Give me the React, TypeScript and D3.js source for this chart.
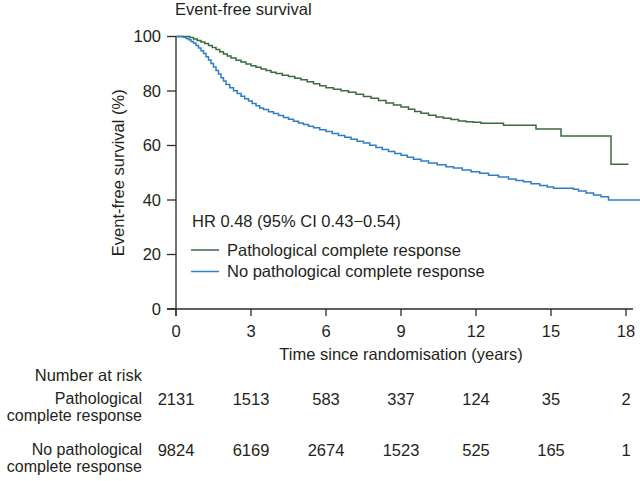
import React from "react";
import * as d3 from "d3";

// ---- Data ----
const xTicks = [0, 3, 6, 9, 12, 15, 18];
const yTicks = [0, 20, 40, 60, 80, 100];

// Pathological complete response (time in years, event-free survival %)
const pcrTime = [0, 0.55, 0.7, 0.85, 1.0, 1.15, 1.3, 1.45, 1.6, 1.75, 1.9, 2.05, 2.2, 2.4, 2.6, 2.8, 3.0, 3.2, 3.4, 3.6, 3.8, 4.0, 4.25, 4.5, 4.75, 5.0, 5.25, 5.5, 5.75, 6.0, 6.3, 6.6, 6.9, 7.2, 7.5, 7.8, 8.1, 8.4, 8.7, 9.0, 9.3, 9.55, 9.8, 10.1, 10.4, 10.7, 11.0, 11.3, 11.6, 11.9, 12.2, 13.1, 14.4, 15.4, 17.4, 18.1];
const pcrSurv = [100, 99.6, 99.1, 98.5, 98.0, 97.4, 96.7, 96.0, 95.2, 94.4, 93.6, 92.8, 92.1, 91.3, 90.6, 89.9, 89.3, 88.7, 88.1, 87.5, 86.9, 86.4, 85.8, 85.3, 84.7, 84.1, 83.4, 82.7, 81.9, 81.2, 80.6, 80.1, 79.5, 78.8, 78.0, 77.3, 76.5, 75.6, 74.9, 74.1, 73.3, 72.5, 71.8, 71.1, 70.5, 70.0, 69.5, 69.0, 68.7, 68.5, 68.2, 67.4, 66.1, 63.5, 53.1, 53.1];

// No pathological complete response
const noPcrTime = [0, 0.3, 0.4, 0.5, 0.6, 0.7, 0.8, 0.9, 1.0, 1.1, 1.2, 1.3, 1.4, 1.5, 1.6, 1.7, 1.8, 1.9, 2.0, 2.15, 2.3, 2.45, 2.6, 2.75, 2.9, 3.05, 3.2, 3.35, 3.5, 3.7, 3.9, 4.1, 4.3, 4.5, 4.7, 4.9, 5.1, 5.3, 5.5, 5.75, 6.0, 6.25, 6.5, 6.75, 7.0, 7.25, 7.5, 7.75, 8.0, 8.25, 8.5, 8.75, 9.0, 9.25, 9.5, 9.8, 10.1, 10.45, 10.8, 11.1, 11.45, 11.8, 12.15, 12.5, 12.9, 13.3, 13.6, 13.9, 14.2, 14.55, 14.85, 15.1, 15.9, 16.1, 16.4, 16.7, 17.0, 17.3, 18.6];
const noPcrSurv = [100, 99.7, 99.3, 98.8, 98.2, 97.5, 96.7, 95.8, 94.8, 93.8, 92.6, 91.4, 90.1, 88.8, 87.5, 86.2, 84.9, 83.7, 82.4, 81.2, 80.1, 79.1, 78.1, 77.2, 76.3, 75.4, 74.6, 73.8, 73.2, 72.4, 71.7, 71.0, 70.3, 69.6, 68.9, 68.3, 67.7, 67.1, 66.5, 65.8, 65.1, 64.4, 63.7, 63.0, 62.3, 61.6, 60.9, 60.1, 59.3, 58.5, 57.8, 57.1, 56.4, 55.7, 55.0, 54.3, 53.6, 52.9, 52.2, 51.7, 51.0, 50.4, 49.8, 49.1, 48.4, 47.7, 47.2, 46.7, 46.0, 45.3, 44.8, 44.3, 43.9, 43.3, 42.6, 41.8, 41.2, 40.0, 40.0];

const riskPcr = [2131, 1513, 583, 337, 124, 35, 2];
const riskNoPcr = [9824, 6169, 2674, 1523, 525, 165, 1];

const seriesNames = ["Pathological complete response", "No pathological complete response"];
const seriesColors = ["#3a6b40", "#2f7dc6"];

export default function App() {
  const x = d3.scaleLinear().domain([0, 18]).range([176, 626]);
  const y = d3.scaleLinear().domain([0, 100]).range([309, 36.5]);

  const line = d3
    .line<[number, number]>()
    .x((d) => x(d[0]))
    .y((d) => y(d[1]))
    .curve(d3.curveStepAfter);

  const pcrPts = pcrTime.map((t, i) => [t, pcrSurv[i]] as [number, number]);
  const noPcrPts = noPcrTime.map((t, i) => [t, noPcrSurv[i]] as [number, number]);

  const font = "'Liberation Sans', Arial, Helvetica, sans-serif";
  const txt = "#231f20";
  const axisCol = "#2a2a2a";
  const fs = 16.5;
  const fsTable = 16;

  return (
    <svg
      width={640}
      height={481}
      style={{ position: "absolute", left: 0, top: 0, background: "#fff" }}
      fontFamily={font}
      fill={txt}
    >
      <rect x={0} y={0} width={640} height={481} fill="#fff" />
      {/* Title */}
      <text x={175} y={15} fontSize={fs}>Event-free survival</text>

      {/* Y axis */}
      <line x1={x(0)} x2={x(0)} y1={y(100)} y2={y(0) + 7} stroke={axisCol} strokeWidth={1.3} />
      {yTicks.map((t) => (
        <g key={"y" + t}>
          <line x1={x(0) - 9} x2={x(0)} y1={y(t)} y2={y(t)} stroke={axisCol} strokeWidth={1.3} />
          <text x={161} y={y(t)} dy="0.36em" textAnchor="end" fontSize={fs}>{t}</text>
        </g>
      ))}
      <text
        transform={`translate(124, ${(y(0) + y(100)) / 2}) rotate(-90)`}
        textAnchor="middle"
        fontSize={fs}
      >
        Event-free survival (%)
      </text>

      {/* X axis */}
      <line x1={x(0) - 9} x2={633} y1={y(0)} y2={y(0)} stroke={axisCol} strokeWidth={1.3} />
      {xTicks.map((t) => (
        <g key={"x" + t}>
          <line x1={x(t)} x2={x(t)} y1={y(0)} y2={y(0) + 7} stroke={axisCol} strokeWidth={1.3} />
          <text x={x(t)} y={337} textAnchor="middle" fontSize={fs}>{t}</text>
        </g>
      ))}
      <text x={(x(0) + x(18)) / 2} y={360} textAnchor="middle" fontSize={fs}>
        Time since randomisation (years)
      </text>

      {/* Curves */}
      <path d={line(pcrPts) || ""} fill="none" stroke={seriesColors[0]} strokeWidth={1.5} />
      <path d={line(noPcrPts) || ""} fill="none" stroke={seriesColors[1]} strokeWidth={1.5} />

      {/* HR annotation */}
      <text x={192} y={227} fontSize={fs}>HR 0.48 (95% CI 0.43−0.54)</text>

      {/* Legend */}
      {seriesNames.map((n, i) => (
        <g key={n}>
          <line x1={191} x2={219} y1={250 + i * 21.5} y2={250 + i * 21.5} stroke={seriesColors[i]} strokeWidth={1.5} />
          <text x={227} y={250 + i * 21.5} dy="0.36em" fontSize={fs}>{n}</text>
        </g>
      ))}

      {/* Number at risk */}
      <text x={142} y={381} textAnchor="end" fontSize={fs}>Number at risk</text>
      <text x={142} y={404} textAnchor="end" fontSize={fsTable}>Pathological</text>
      <text x={142} y={421} textAnchor="end" fontSize={fsTable}>complete response</text>
      <text x={142} y={455} textAnchor="end" fontSize={fsTable}>No pathological</text>
      <text x={142} y={472} textAnchor="end" fontSize={fsTable}>complete response</text>
      {riskPcr.map((v, i) => (
        <text key={"r1" + i} x={x(xTicks[i])} y={405} textAnchor="middle" fontSize={fs}>{v}</text>
      ))}
      {riskNoPcr.map((v, i) => (
        <text key={"r2" + i} x={x(xTicks[i])} y={456} textAnchor="middle" fontSize={fs}>{v}</text>
      ))}
    </svg>
  );
}
